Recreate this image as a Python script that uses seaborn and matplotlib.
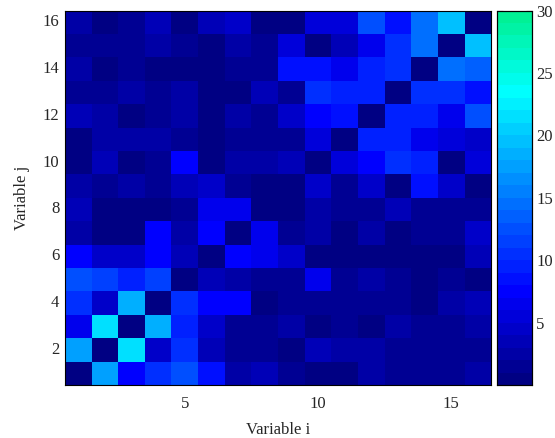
import numpy as np
import pandas as pd
import matplotlib
matplotlib.use("Agg")
import matplotlib.pyplot as plt
import seaborn as sns
from matplotlib.colors import ListedColormap, LinearSegmentedColormap

# rows listed from top (j = 16) to bottom (j = 1); columns i = 1..16
row_16 = [2.5, 0.8, 1.3, 3, 0.5, 3.5, 4.8, 0.8, 0.5, 5.3, 5.3, 12.5, 8, 14.5, 19, 0]
row_15 = [1.7, 1, 1, 2.5, 1.7, 0.8, 2.1, 1.3, 5.3, 0.5, 3.5, 6, 10, 14.5, 0, 19]
row_14 = [2.5, 0.8, 1.3, 0.8, 0.8, 0.8, 1.7, 1.3, 8, 8, 6.5, 9, 10, 0, 14.5, 13]
row_13 = [1.7, 1, 2.1, 1.3, 2.1, 0.8, 0.8, 3, 1.3, 10, 9, 9, 0, 10, 10, 8]
row_12 = [3.5, 2.1, 0.5, 1.3, 2.5, 0.5, 2.1, 1, 4.2, 7.3, 8, 0, 9, 9, 6, 12]
row_11 = [0.8, 2.1, 2.5, 2.1, 1.7, 0.8, 1, 1.3, 1.3, 5.3, 0, 9, 9, 6.5, 5.3, 4.8]
row_10 = [0.8, 3.5, 0.8, 1.7, 7.3, 0.5, 2.5, 2.5, 3.5, 0, 5.3, 7.3, 10, 9, 0.8, 5.3]
row_9 = [2.1, 1, 2.5, 1.7, 3, 4.8, 1.3, 0.8, 0, 4.2, 1, 4.2, 0.8, 8, 4.8, 0.5]
row_8 = [3.5, 0.8, 0.8, 0.3, 1.7, 6.5, 6.5, 0, 0.5, 2.5, 1, 1, 3, 1, 1, 1]
row_7 = [2.1, 0.8, 0.8, 7.3, 2.5, 7.3, 0, 6.5, 1, 2.5, 0.8, 2.1, 0.5, 1.7, 1.7, 4.2]
row_6 = [7.3, 4.8, 4.8, 7.3, 3, 0, 7.3, 6, 4.2, 0.8, 0.8, 0.8, 0.8, 0.8, 0.8, 3]
row_5 = [12.5, 11.5, 9, 11.5, 0, 3.5, 2.5, 1.7, 1.7, 6, 1, 2.5, 1.7, 0.8, 1.3, 0.5]
row_4 = [10, 4.8, 18, 0, 10.8, 7.3, 7.3, 0.8, 1, 1.7, 1.7, 1.3, 1.3, 0.8, 2.5, 3]
row_3 = [6.5, 21.5, 0, 18, 9, 4.8, 1.3, 1.3, 2.1, 0.5, 1.7, 0.8, 2.5, 1.7, 1.3, 2.1]
row_2 = [17, 0, 21.5, 4.8, 10, 3.5, 1, 1, 0.8, 3, 2.1, 2.1, 1, 1, 1, 1]
row_1 = [0, 17, 7.3, 10, 12.5, 8, 2.5, 3.5, 1, 0.8, 0.8, 2.5, 1.3, 1.7, 1.7, 2.1]

var_i = list(range(1, 17))
var_j_top_down = list(range(16, 0, -1))
x_ticks = [5, 10, 15]
y_ticks = [2, 4, 6, 8, 10, 12, 14, 16]
cbar_ticks = [5, 10, 15, 20, 25, 30]

rows = [row_16, row_15, row_14, row_13, row_12, row_11, row_10, row_9,
        row_8, row_7, row_6, row_5, row_4, row_3, row_2, row_1]
df = pd.DataFrame(rows, index=var_j_top_down, columns=var_i)

sns.set_theme(style="white")
plt.rcParams["font.family"] = ["Liberation Serif", "DejaVu Serif"]

# navy -> blue -> cyan -> spring green, discretised into 30 steps over 0..30
base = LinearSegmentedColormap.from_list(
    "navy_cyan_green",
    [(0.0, (0.0, 0.0, 0.48)),
     (7.5 / 30, (0.0, 0.0, 1.0)),
     (23.5 / 30, (0.0, 1.0, 1.0)),
     (1.0, (0.0, 0.94, 0.55))])
n_steps = 30
cmap = ListedColormap(base((np.arange(n_steps) + 0.5) / n_steps))

fig = plt.figure(figsize=(5.55, 4.38), dpi=100)
ax = fig.add_axes([0.117, 0.121, 0.768, 0.855])
cax = fig.add_axes([0.8955, 0.121, 0.063, 0.855])

sns.heatmap(df, ax=ax, cbar_ax=cax, cmap=cmap, vmin=0, vmax=30,
            linewidths=0, square=False)

ax.set_xticks([t - 0.5 for t in x_ticks])
ax.set_xticklabels([str(t) for t in x_ticks], rotation=0)
ax.set_yticks([16 - t + 0.5 for t in y_ticks])
ax.set_yticklabels([str(t) for t in y_ticks], rotation=0)
ax.tick_params(axis="x", pad=8)
ax.tick_params(axis="y", pad=4)
ax.tick_params(axis="both", direction="in", length=4, width=0.8, color="black",
               labelsize=12, top=True, right=True, bottom=True, left=True,
               labeltop=False, labelright=False)
for s in ax.spines.values():
    s.set_visible(True)
    s.set_color("black")
    s.set_linewidth(0.8)
ax.set_xlabel("Variable i", fontsize=12, labelpad=7)
ax.set_ylabel("Variable j", fontsize=12, labelpad=9)

cax.set_yticks(cbar_ticks)
cax.set_yticklabels([str(t) for t in cbar_ticks])
cax.tick_params(axis="y", direction="in", length=4, width=0.8, color="black",
                labelsize=12, right=True, left=True, labelleft=False,
                labelright=True, pad=3)
for s in cax.spines.values():
    s.set_visible(True)
    s.set_color("black")
    s.set_linewidth(0.8)

fig.savefig("out.png", dpi=100)
